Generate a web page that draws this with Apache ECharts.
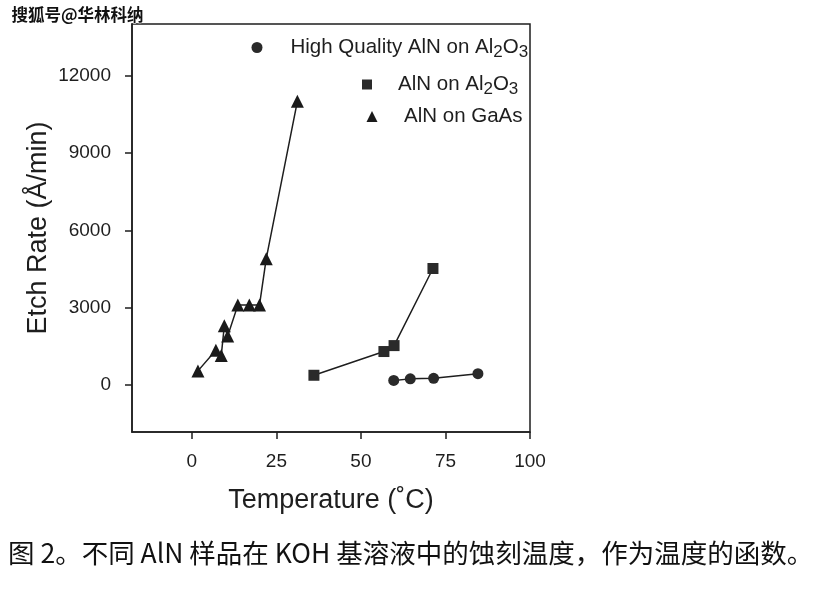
<!DOCTYPE html>
<html>
<head>
<meta charset="utf-8">
<script src="https://cdn.jsdelivr.net/npm/echarts@6/dist/echarts.min.js"></script>
<style>
html,body{margin:0;padding:0;background:#fff;}
#chart{width:817px;height:589px;}
</style>
</head>
<body>
<div id="chart"></div>
<script>
// Data
const gaasTemp = [1.8, 7.1, 8.7, 9.6, 10.6, 13.6, 17, 20, 22, 31.2];
const gaasRate = [550, 1350, 1150, 2300, 1900, 3100, 3100, 3100, 4900, 11000];
const sapphireTemp = [36.1, 56.8, 59.8, 71.3];
const sapphireRate = [380, 1300, 1530, 4520];
const hqTemp = [59.7, 64.6, 71.5, 84.6];
const hqRate = [180, 240, 260, 440];
const xTicks = [0, 25, 50, 75, 100];
const yTicks = [0, 3000, 6000, 9000, 12000];
const seriesNames = ['High Quality AlN on Al2O3', 'AlN on Al2O3', 'AlN on GaAs'];
const xTitle = 'Temperature (˚C)';
const yTitle = 'Etch Rate (Å/min)';
const caption = '图 2。不同 AlN 样品在 KOH 基溶液中的蚀刻温度，作为温度的函数。';
const watermark = '搜狐号@华林科纳';

const pair = (xs, ys) => xs.map((x, i) => [x, ys[i]]);
const ink = '#1e1e1e';
const font = '"Liberation Sans", Arial, sans-serif';

const chart = echarts.init(document.getElementById('chart'));
const legendRich = {
  n: {fontSize: 20.5, fontFamily: font, color: ink},
  s: {fontSize: 17, fontFamily: font, color: ink, verticalAlign: 'bottom', padding: [9, 0, 0, 0]}
};
function legendFmt(name) {
  if (name === seriesNames[0]) return '{n|High Quality AlN on Al}{s|2}{n|O}{s|3}';
  if (name === seriesNames[1]) return '{n|AlN on Al}{s|2}{n|O}{s|3}';
  return '{n|' + name + '}';
}
function mkLegend(name, icon, left, top, size, gap) {
  return {
    data: [name], icon: icon, left: left, top: top, padding: 0,
    itemWidth: size, itemHeight: size, itemGap: 0,
    selectedMode: false,
    textStyle: {rich: legendRich, padding: [0, 0, 0, gap]},
    formatter: legendFmt
  };
}
chart.setOption({
  animation: false,
  backgroundColor: '#fff',
  grid: {left: 132, right: 287, top: 24, bottom: 157, show: true, borderColor: ink, borderWidth: 1.5, backgroundColor: 'transparent'},
  legend: [
    mkLegend(seriesNames[0], 'circle', 251.5, 37, 11, 23),
    mkLegend(seriesNames[1], 'rect', 362, 74, 10, 21),
    mkLegend(seriesNames[2], 'triangle', 366.5, 106, 11, 21.5)
  ],
  xAxis: {
    type: 'value', min: -17.7, max: 100,
    name: xTitle, nameLocation: 'middle', nameGap: 55,
    nameTextStyle: {fontSize: 27, fontFamily: font, color: ink},
    axisLine: {onZero: false, lineStyle: {color: ink, width: 1.5}},
    axisTick: {customValues: xTicks, length: 7, lineStyle: {color: ink, width: 1.5}},
    axisLabel: {customValues: xTicks, fontSize: 19, fontFamily: font, color: ink, margin: 20, formatter: v => String(v)},
    splitLine: {show: false}
  },
  yAxis: {
    type: 'value', min: -1820, max: 14000,
    name: yTitle, nameLocation: 'middle', nameGap: 80, nameRotate: 90,
    nameTextStyle: {fontSize: 27, fontFamily: font, color: ink},
    axisLine: {show: true, onZero: false, lineStyle: {color: ink, width: 1.5}},
    axisTick: {show: true, customValues: yTicks, length: 7, lineStyle: {color: ink, width: 1.5}},
    axisLabel: {customValues: yTicks, fontSize: 19, fontFamily: font, color: ink, margin: 21, formatter: v => String(v)},
    splitLine: {show: false}
  },
  series: [
    {name: seriesNames[0], type: 'line', data: pair(hqTemp, hqRate), symbol: 'circle', symbolSize: 11,
     itemStyle: {color: '#2a2a2a'}, lineStyle: {color: ink, width: 1.5}},
    {name: seriesNames[1], type: 'line', data: pair(sapphireTemp, sapphireRate), symbol: 'rect', symbolSize: 11,
     itemStyle: {color: '#2a2a2a'}, lineStyle: {color: ink, width: 1.5}},
    {name: seriesNames[2], type: 'line', data: pair(gaasTemp, gaasRate), symbol: 'triangle', symbolSize: 13,
     itemStyle: {color: '#1a1a1a'}, lineStyle: {color: ink, width: 1.5}}
  ],
  graphic: [
    {type: 'text', left: 11, top: 6, style: {text: watermark, font: 'bold 16.5px "Noto Sans CJK SC"', fill: '#111', stroke: '#fff', lineWidth: 1}},
    {type: 'text', left: 8, top: 540, style: {text: caption, font: '26.5px "Noto Sans CJK SC"', fill: '#111'}}
  ]
});
</script>
</body>
</html>
